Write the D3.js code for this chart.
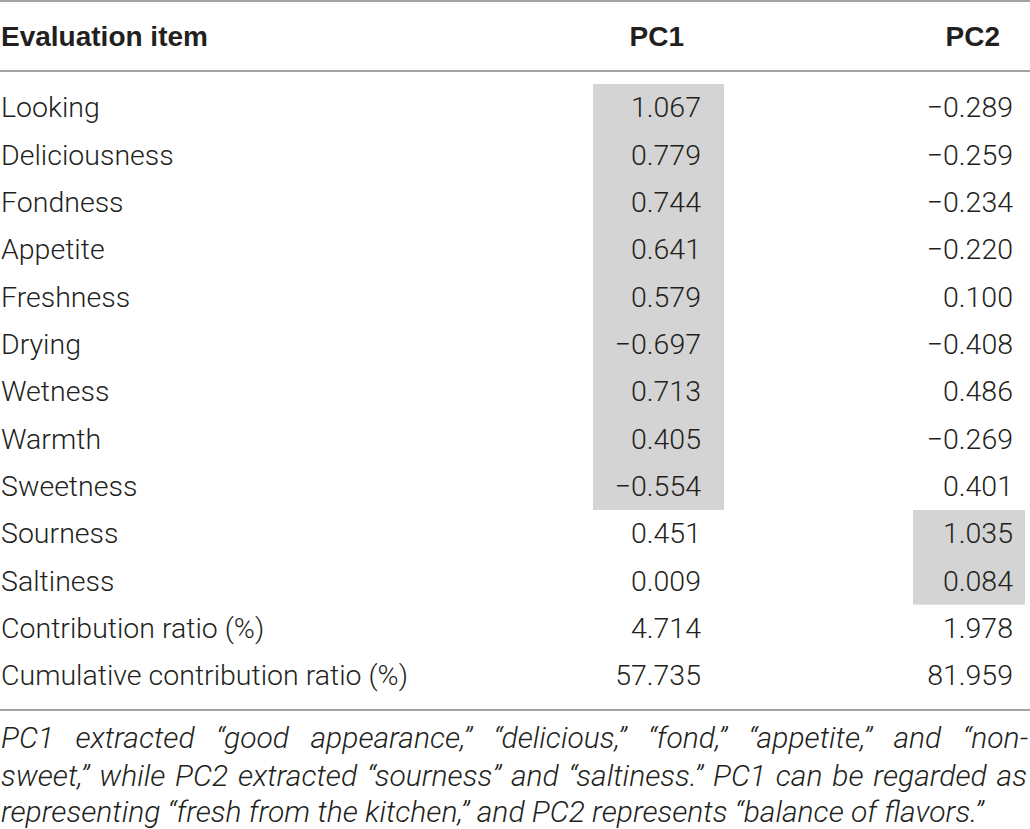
<!DOCTYPE html>
<html>
<head>
<meta charset="utf-8">
<script src="https://cdn.jsdelivr.net/npm/d3@7"></script>
<style>
  html, body { margin: 0; padding: 0; background: #ffffff; }
  svg { display: block; }
</style>
</head>
<body>
<div id="chart"></div>
<script>
// ---------- data ----------
const items = [
  "Looking", "Deliciousness", "Fondness", "Appetite", "Freshness", "Drying",
  "Wetness", "Warmth", "Sweetness", "Sourness", "Saltiness",
  "Contribution ratio (%)", "Cumulative contribution ratio (%)"
];
const pc1 = [1.067, 0.779, 0.744, 0.641, 0.579, -0.697, 0.713, 0.405, -0.554, 0.451, 0.009, 4.714, 57.735];
const pc2 = [-0.289, -0.259, -0.234, -0.220, 0.100, -0.408, 0.486, -0.269, 0.401, 1.035, 0.084, 1.978, 81.959];
const columns = ["PC1", "PC2"];
const headerLabel = "Evaluation item";
// highlighted (extracted) items per component
const pc1Highlight = ["Looking", "Deliciousness", "Fondness", "Appetite", "Freshness", "Drying", "Wetness", "Warmth", "Sweetness"];
const pc2Highlight = ["Sourness", "Saltiness"];
const noteLines = [
  "PC1 extracted \u201cgood appearance,\u201d \u201cdelicious,\u201d \u201cfond,\u201d \u201cappetite,\u201d and \u201cnon-",
  "sweet,\u201d while PC2 extracted \u201csourness\u201d and \u201csaltiness.\u201d PC1 can be regarded as",
  "representing \u201cfresh from the kitchen,\u201d and PC2 represents \u201cbalance of flavors.\u201d"
];

// ---------- layout ----------
const W = 1030, H = 829;
const FONT = "Roboto, 'Liberation Sans', Arial, sans-serif";
const FONT_B = "'Liberation Sans', Arial, Helvetica, sans-serif";
const WEIGHT = 300;
const TEXT = "#231f20";
const RULE = "#a3a3a3";

const svg = d3.select("#chart").append("svg")
  .attr("width", W).attr("height", H)
  .attr("viewBox", `0 0 ${W} ${H}`);

// size the light body font so that the longest label spans like the reference
const probe0 = svg.append("text")
  .attr("font-family", FONT).attr("font-weight", WEIGHT).attr("font-size", 28)
  .text(items[items.length - 1]);
const w0 = probe0.node().getComputedTextLength();
probe0.remove();
const FS = Math.max(25, Math.min(31, 28 * 407 / w0));

const rowH = 47.33;
const y = d3.scaleBand().domain(items).range([84, 84 + rowH * items.length]).padding(0);

// column right edges of numbers
const xCol = d3.scaleOrdinal().domain(columns).range([701, 1013]);
const headerX = d3.scaleOrdinal().domain(columns).range([684, 1000]);
const boxExt = { PC1: [593, 724], PC2: [913, 1025] };

const fmt = d3.format(".3f"); // uses U+2212 minus

// highlight boxes
function drawBoxes(col, list) {
  const rows = list.map(d => y(d));
  const top = d3.min(rows), bottom = d3.max(rows) + y.bandwidth();
  svg.append("rect")
    .attr("x", boxExt[col][0]).attr("y", top)
    .attr("width", boxExt[col][1] - boxExt[col][0])
    .attr("height", bottom - top)
    .attr("fill", "#d4d4d4");
}
drawBoxes("PC1", pc1Highlight);
drawBoxes("PC2", pc2Highlight);

// rules
const rules = [1, 71, 710];
svg.selectAll("line.rule").data(rules).join("line")
  .attr("class", "rule")
  .attr("x1", 0).attr("x2", W)
  .attr("y1", d => d).attr("y2", d => d)
  .attr("stroke", RULE).attr("stroke-width", 2);

// header
svg.append("text")
  .attr("x", 1).attr("y", 46)
  .attr("font-family", FONT_B).attr("font-size", 28).attr("font-weight", "bold")
  .attr("fill", TEXT).text(headerLabel);
svg.selectAll("text.colhead").data(columns).join("text")
  .attr("class", "colhead")
  .attr("x", d => headerX(d)).attr("y", 46)
  .attr("text-anchor", "end")
  .attr("font-family", FONT_B).attr("font-size", 28).attr("font-weight", "bold")
  .attr("fill", TEXT).text(d => d);

const baseOff = y.bandwidth() / 2 + 9.8;

// row labels
svg.selectAll("text.item").data(items).join("text")
  .attr("class", "item")
  .attr("x", 1).attr("y", d => y(d) + baseOff)
  .attr("font-family", FONT).attr("font-weight", WEIGHT).attr("font-size", FS)
  .attr("fill", TEXT).text(d => d);

// values
const series = { PC1: pc1, PC2: pc2 };
columns.forEach(col => {
  svg.selectAll("text.v" + col).data(series[col]).join("text")
    .attr("class", "v" + col)
    .attr("x", xCol(col))
    .attr("y", (d, i) => y(items[i]) + baseOff)
    .attr("text-anchor", "end")
    .attr("font-family", FONT).attr("font-weight", WEIGHT).attr("font-size", FS)
    .attr("fill", TEXT).text(d => fmt(d));
});

// notes (italic, justified lines 1-2)
const noteY = [748, 785.5, 822];
const noteRight = [1028, 1027];
const probe = svg.append("text")
  .attr("font-family", FONT).attr("font-weight", WEIGHT).attr("font-size", 28).attr("font-style", "italic")
  .text(noteLines[2]);
const natW = probe.node().getComputedTextLength();
probe.remove();
const noteFS = Math.max(24, Math.min(32, 28 * 983 / natW));

noteLines.forEach((line, li) => {
  if (li < 2) {
    const words = line.split(" ");
    const g = svg.append("g");
    const ts = g.selectAll("text").data(words).join("text")
      .attr("y", noteY[li])
      .attr("font-family", FONT).attr("font-weight", WEIGHT).attr("font-size", noteFS).attr("font-style", "italic")
      .attr("fill", TEXT).text(d => d);
    const widths = ts.nodes().map(n => n.getComputedTextLength());
    const total = d3.sum(widths);
    const gap = (noteRight[li] - 1 - total) / (words.length - 1);
    let x = 1;
    ts.attr("x", (d, i) => { const xx = x; x += widths[i] + gap; return xx; });
  } else {
    svg.append("text")
      .attr("x", 1).attr("y", noteY[li])
      .attr("font-family", FONT).attr("font-weight", WEIGHT).attr("font-size", noteFS).attr("font-style", "italic")
      .attr("fill", TEXT).text(line);
  }
});
</script>
</body>
</html>
